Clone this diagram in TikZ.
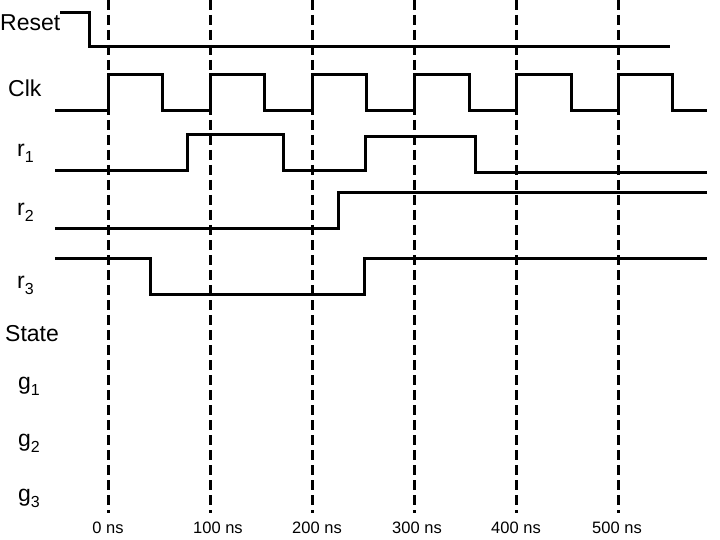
\documentclass[tikz,border=0pt]{standalone}
\usepackage{fontspec}
\setmainfont{Liberation Sans}
\newcommand\mysubs[1]{\raisebox{-6pt}{\fontsize{16}{16}\selectfont #1}}
\begin{document}
\begin{tikzpicture}[x=1pt,y=-1pt,
  wave/.style={line width=3pt, line join=miter},
  gridline/.style={line width=3pt, dash pattern=on 10pt off 5pt},
  lbl/.style={anchor=base west, inner sep=0pt, font=\fontsize{23}{23}\selectfont},
  tlbl/.style={anchor=base, inner sep=0pt, font=\fontsize{16.5}{16.5}\selectfont}]
\useasboundingbox (0,0) rectangle (720,540);
% dashed time markers
\foreach \x/\tx/\t in {108/108/0, 210/218/100, 312/317/200, 414/417/300, 516/516/400, 618/617/500}{
  \draw[gridline] (\x,0) -- (\x,513);
  \node[tlbl] (t\t) at (\tx,533) {\t\ ns};
}
% labels
\node[lbl] (lreset) at (0,31) {Reset};
\node[lbl] (lclk) at (8,97) {Clk};
\node[lbl] (lr1) at (17,157) {r\mysubs{1}};
\node[lbl] (lr2) at (17,215) {r\mysubs{2}};
\node[lbl] (lr3) at (17,288) {r\mysubs{3}};
\node[lbl] (lstate) at (5,341) {State};
\node[lbl] (lg1) at (18,389) {g\mysubs{1}};
\node[lbl] (lg2) at (18,446) {g\mysubs{2}};
\node[lbl] (lg3) at (18,501) {g\mysubs{3}};
% waveforms
\draw[wave] (60,13) -- (89,13) -- (89,47) -- (670,47);
\draw[wave] (55,111) -- (108,111) -- (108,75) -- (162,75) -- (162,111) -- (210,111) -- (210,75) -- (264,75) -- (264,111) -- (312,111) -- (312,75) -- (366,75) -- (366,111) -- (414,111) -- (414,75) -- (469,75) -- (469,111) -- (516,111) -- (516,75) -- (571,75) -- (571,111) -- (618,111) -- (618,75) -- (672,75) -- (672,111) -- (707,111);
\draw[wave] (55,171) -- (187,171) -- (187,135) -- (283,135) -- (283,171) -- (365,171) -- (365,137) -- (475,137) -- (475,173) -- (707,173);
\draw[wave] (55,229) -- (338,229) -- (338,193) -- (707,193);
\draw[wave] (55,258) -- (150,258) -- (150,294) -- (364,294) -- (364,258) -- (707,258);
\end{tikzpicture}
\end{document}
